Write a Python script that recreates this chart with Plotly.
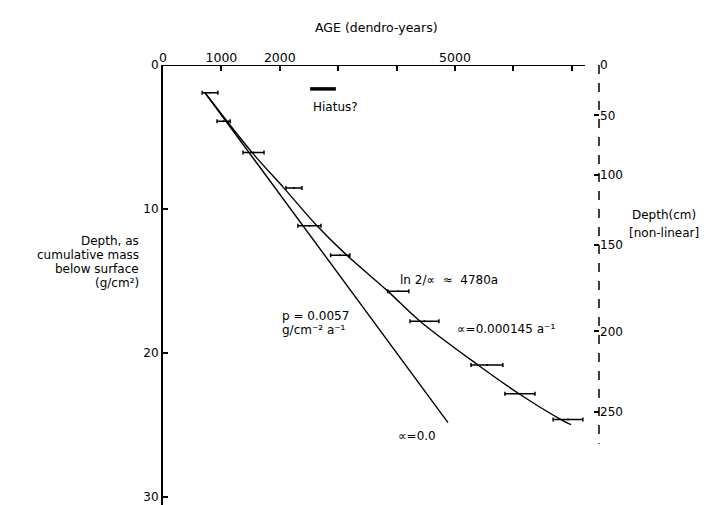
import plotly.graph_objects as go

# ---- data ----
# Top axis: AGE (dendro-years)
age_tickvals = [0, 1000, 2000, 3000, 4000, 5000, 6000, 7000]
age_ticktext = ["0", "1000", "2000", "", "", "5000", "", ""]

# Left axis: depth as cumulative mass below surface (g/cm2)
mass_tickvals = [0, 10, 20, 30]

# Right axis: depth in cm (non-linear), located on the mass scale
cm_ticktext = ["0", "50", "100", "150", "200", "250"]
cm_tickpos = [0, 3.5, 7.65, 12.5, 18.5, 24.1]

# Dated samples: age range (dendro-years) and depth (g/cm2)
sample_age_min = [670, 925, 1370, 2105, 2310, 2870, 3850, 4230, 5275, 5855, 6680]
sample_age_max = [940, 1150, 1730, 2380, 2705, 3200, 4210, 4725, 5820, 6370, 7190]
sample_depth = [1.93, 3.91, 6.07, 8.55, 11.17, 13.22, 15.72, 17.79, 20.83, 22.83, 24.62]

# Fitted curve with decay, alpha = 0.000145 a^-1
decay_age = [719, 1524, 2072, 2637, 3099, 3853, 4401, 5394, 6096, 6815, 6986]
decay_depth = [1.93, 6.07, 8.55, 11.17, 13.03, 15.72, 17.79, 20.83, 22.83, 24.62, 24.97]

# Linear fit, alpha = 0
linear_age = [719, 4880]
linear_depth = [1.93, 24.83]

# Hiatus marker
hiatus_age = [2520, 2960]
hiatus_depth = [1.66, 1.66]

# ---- figure ----
W, H = 707, 505
L, R, T, B = 155, 116, 57, 0
PW, PH = W - L - R, H - T - B
FONT = "DejaVu Sans"
SCALE = 14.4  # px per g/cm2


def px(x):
    return (x - L) / PW


def py(y):
    return 1 - (y - T) / PH


center = [(a + b) / 2 for a, b in zip(sample_age_min, sample_age_max)]
half = [(b - a) / 2 for a, b in zip(sample_age_min, sample_age_max)]

fig = go.Figure()
fig.add_trace(go.Scatter(x=linear_age, y=linear_depth, mode="lines",
                         line=dict(color="black", width=1.4), showlegend=False))
fig.add_trace(go.Scatter(x=decay_age, y=decay_depth, mode="lines",
                         line=dict(color="black", width=1.4, shape="spline"),
                         showlegend=False))
fig.add_trace(go.Scatter(x=center, y=sample_depth, mode="markers",
                         marker=dict(size=2, color="black"),
                         error_x=dict(type="data", array=half, symmetric=True,
                                      color="black", thickness=1.5, width=2),
                         showlegend=False))
fig.add_trace(go.Scatter(x=hiatus_age, y=hiatus_depth, mode="lines",
                         line=dict(color="black", width=3.5), showlegend=False,
                         yaxis="y2"))

xmax = 7466
ymax = PH / SCALE

fig.update_layout(
    width=W, height=H,
    margin=dict(l=L, r=R, t=T, b=B, autoexpand=False),
    paper_bgcolor="white", plot_bgcolor="white",
    font=dict(family=FONT, size=12, color="black"),
    xaxis=dict(range=[0, xmax], side="top", tickmode="array",
               tickvals=age_tickvals, ticktext=age_ticktext,
               ticks="inside", ticklen=6, tickwidth=1.5, tickcolor="black",
               showline=False, showgrid=False, zeroline=False,
               tickfont=dict(family=FONT, size=12.5)),
    yaxis=dict(range=[ymax, 0], tickmode="array", tickvals=mass_tickvals,
               ticks="inside", ticklen=5, tickwidth=1.5, tickcolor="black",
               showline=True, linewidth=2, linecolor="black",
               showgrid=False, zeroline=False,
               tickfont=dict(family=FONT, size=12)),
    yaxis2=dict(range=[ymax, 0], overlaying="y", side="right",
                tickmode="array", tickvals=cm_tickpos, ticktext=cm_ticktext,
                ticks="inside", ticklen=5, tickwidth=1.5, tickcolor="black",
                showline=False, showgrid=False, zeroline=False,
                tickfont=dict(family=FONT, size=12)),
    showlegend=False,
)

# top axis line (ends short of the right axis) and dashed right axis
fig.add_shape(type="line", xref="x", yref="y", x0=0, x1=7226, y0=0, y1=0,
              line=dict(color="black", width=2))
fig.add_shape(type="line", xref="paper", yref="y", x0=1, x1=1, y0=0, y1=26.3,
              line=dict(color="black", width=1.5, dash="dash"))


def note(text, x, y, anchor="left", size=12):
    fig.add_annotation(text=text, xref="paper", yref="paper", x=px(x), y=py(y),
                       xanchor=anchor, yanchor="middle", showarrow=False,
                       font=dict(family=FONT, size=size, color="black"))


note("AGE (dendro-years)", 368, 20, "center", 12.5)
note("Depth, as", 133, 233, "right")
note("cumulative mass", 133, 247, "right")
note("below surface", 133, 261, "right")
note("(g/cm²)", 133, 275, "right")
note("Hiatus?", 327, 99, "center")
note("ln 2/∝  ≈  4780a", 390, 272)
note("∝=0.000145 a⁻¹", 447, 321)
note("p = 0.0057", 272, 308)
note("g/cm⁻² a⁻¹", 272, 322)
note("∝=0.0", 388, 428)
note("Depth(cm)", 622, 207)
note("[non-linear]", 619, 225)

fig.write_html("out.html")
